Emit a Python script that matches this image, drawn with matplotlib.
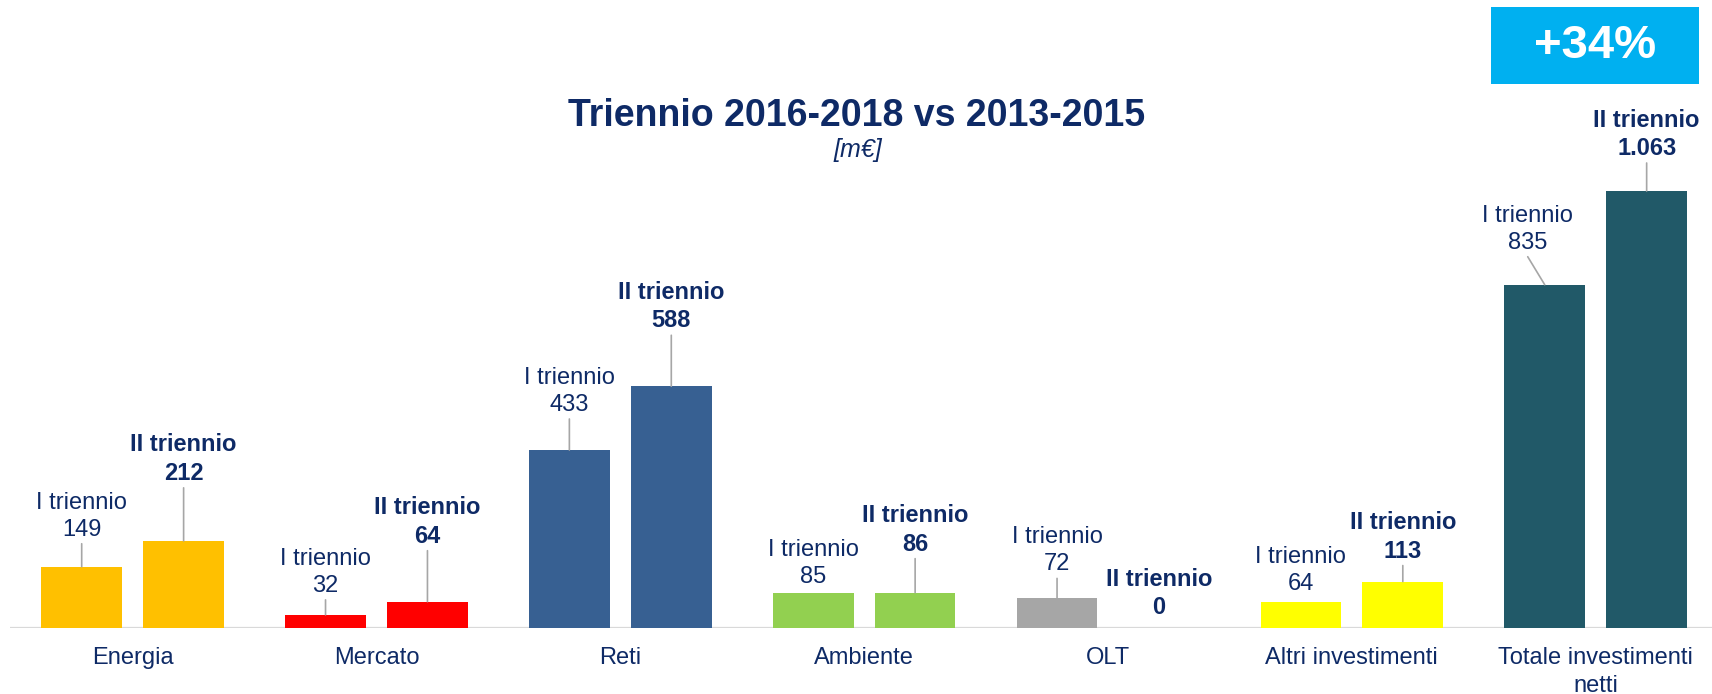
import matplotlib
matplotlib.use("Agg")
import matplotlib.pyplot as plt
from matplotlib.patches import Rectangle
import numpy as np

# ----------------------------------------------------------
# data [m€]
# ----------------------------------------------------------
categories = ["Energia", "Mercato", "Reti", "Ambiente", "OLT",
              "Altri investimenti", "Totale investimenti\nnetti"]
first_triennio = [149, 32, 433, 85, 72, 64, 835]
second_triennio = [212, 64, 588, 86, 0, 113, 1063]
bar_colors = ["#FFC000", "#FF0000", "#376092", "#92D050",
              "#A6A6A6", "#FFFF00", "#215968"]
growth_label = "+34%"

# label offsets from bar top (pixels): text baseline, horizontal shift
first_off = [31, 23, 39, 10, 28, 12, 36]
first_dx = [0, 0, 0, 0, 0, 0, -17]
second_off = [61, 59, 59, 42, 14, 24, 36]

NAVY = "#0E2A66"
GRID = "#D9D9D9"
LEADER = "#A6A6A6"

plt.rcParams["font.family"] = ["Liberation Sans", "DejaVu Sans"]


def fmt(v):
    return f"{v:,}".replace(",", ".")


fig = plt.figure(figsize=(17.12, 6.94), dpi=100)
ax = fig.add_axes([10 / 1712, 66 / 694, 1702 / 1712, 628 / 694])

x = np.arange(len(categories))
width = 0.331
shift = 0.209

ax.bar(x - shift, first_triennio, width, color=bar_colors, zorder=2)
ax.bar(x + shift, second_triennio, width, color=bar_colors, zorder=2)

ax.set_xlim(-0.503, 6.477)
ax.set_ylim(0, 1527.6)
ax.axhline(0, color=GRID, lw=1.6, zorder=1)

for s in ax.spines.values():
    s.set_visible(False)
ax.set_yticks([])
ax.set_xticks(x)
ax.set_xticklabels(categories, fontsize=17, color=NAVY, linespacing=1.3)
ax.tick_params(axis="x", length=0, pad=14)


def label(xpos, val, text, off, dx, bold):
    # leader line from bar top up to just below the text
    if off > 15:
        ax.annotate("", xy=(xpos, val), xycoords="data",
                    xytext=(dx, off - 8), textcoords="offset pixels",
                    arrowprops=dict(arrowstyle="-", color=LEADER, lw=1.2,
                                    shrinkA=0, shrinkB=0))
    ax.annotate(text, xy=(xpos, val), xycoords="data",
                xytext=(dx, off - 5), textcoords="offset pixels",
                ha="center", va="bottom", fontsize=17, color=NAVY,
                fontweight="bold" if bold else "normal", linespacing=1.3)


for i in range(len(categories)):
    label(x[i] - shift, first_triennio[i],
          f"I triennio\n{fmt(first_triennio[i])}",
          first_off[i], first_dx[i], False)
    label(x[i] + shift, second_triennio[i],
          f"II triennio\n{fmt(second_triennio[i])}",
          second_off[i], 0, True)

# title
fig.text(857 / 1712, 1 - 126 / 694, "Triennio 2016-2018 vs 2013-2015",
         ha="center", va="baseline", fontsize=27, fontweight="bold",
         color=NAVY)
fig.text(858 / 1712, 1 - 157 / 694, "[m€]", ha="center", va="baseline",
         fontsize=18, style="italic", color=NAVY)

# growth box
fig.patches.append(Rectangle((1491 / 1712, 1 - 84 / 694), 208 / 1712, 77 / 694,
                             transform=fig.transFigure, facecolor="#00B0F0",
                             edgecolor="none"))
fig.text(1595 / 1712, 1 - 46 / 694, growth_label, ha="center", va="center",
         fontsize=34, fontweight="bold", color="white")

fig.savefig("out.png", dpi=100)
